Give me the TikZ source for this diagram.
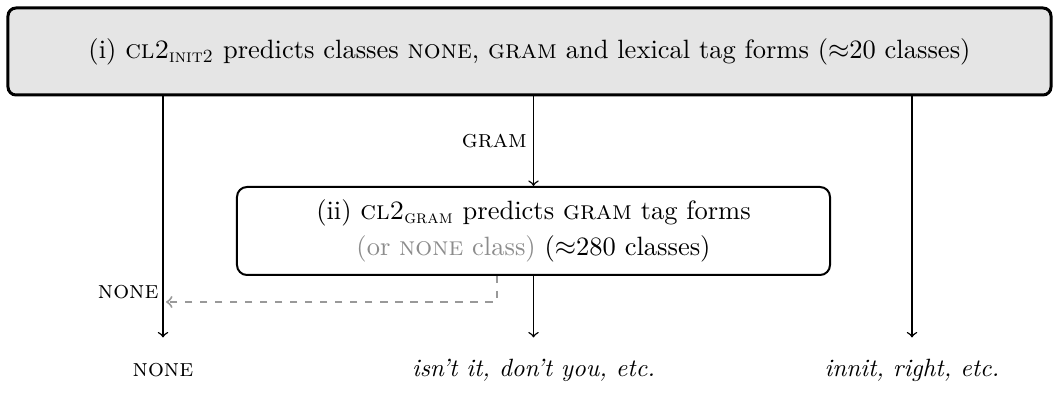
\documentclass[tikz,border=0pt]{standalone}
\usetikzlibrary{positioning}

\begin{document}
\begin{tikzpicture}[x=0.4pt,y=-0.4pt,
box/.style={draw,rectangle,rounded corners=4pt,align=center,
    font=\fontsize{10.6}{14.6}\selectfont},
outcome/.style={minimum height=25.6pt,inner sep=0pt},
flow/.style={semithick,->}]
\useasboundingbox (0,0) rectangle (1054,398);

\node (init) [box,very thick,fill=black!10,rounded corners=3.2pt,
    minimum width=417.2pt,minimum height=34.8pt] at (529.5,51.5)
    {(i) \textsc{cl2}\textsubscript{\textsc{init2}} predicts classes \textsc{none}, \textsc{gram} and lexical tag forms ($\approx$20 classes)};
\node (clgram) [box,thick,minimum width=237.2pt,minimum height=35.2pt] at (533.5,231)
    {(ii) \textsc{cl2}\textsubscript{\textsc{gram}} predicts \textsc{gram} tag forms\\
    \textcolor{black!45}{(or \textsc{none} class)} ($\approx$280 classes)};

\node (onone) [outcome] at (163,370) {\textsc{none}};
\node (ogram) [outcome] at (533.5,370) {\textit{isn't it, don't you, etc.}};
\node (olex) [outcome] at (912,370) {\textit{innit, right, etc.}};

\draw [flow] (init.south -| onone) -- (onone.north);
\draw [flow] (init.south -| clgram) -- node [left,xshift=1pt] {\textsc{gram}} (clgram.north);
\draw [flow] (clgram) -- (ogram.north);
\draw [flow] (init.south -| olex) -- (olex.north);

\coordinate (back) at (166,302);
\draw [thick,dashed,black!40,->] ([xshift=-14.8pt]clgram.south) |- (back);
\node [anchor=east,inner sep=0pt] at (159,292) {\textsc{none}};
\end{tikzpicture}
\end{document}
